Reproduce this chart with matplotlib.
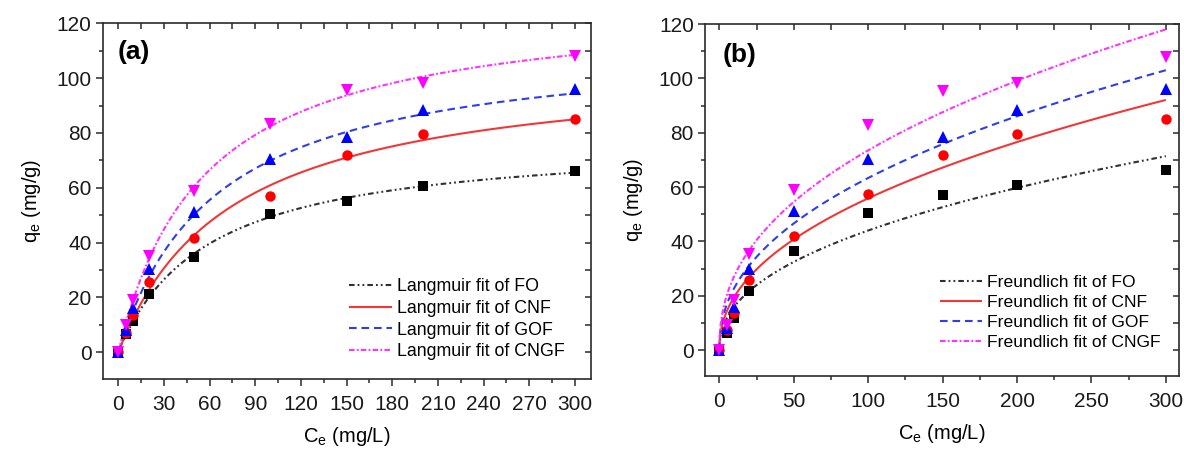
import numpy as np
import matplotlib
matplotlib.use("Agg")
import matplotlib.pyplot as plt
from matplotlib.ticker import MultipleLocator, NullFormatter

plt.rcParams["font.family"] = ["Liberation Sans", "DejaVu Sans"]
plt.rcParams["mathtext.fontset"] = "custom"
plt.rcParams["mathtext.rm"] = "Liberation Sans"
plt.rcParams["mathtext.it"] = "Liberation Sans:italic"
plt.rcParams["lines.scale_dashes"] = False

# Equilibrium concentrations (mg/L)
ce = [0, 5, 10, 20, 50, 100, 150, 200, 300]

# Measured uptake (mg/g), panel (a)
qe_fo_a = [0, 6.5, 11.4, 21.4, 34.8, 50.3, 55.2, 60.7, 66.0]
qe_cnf_a = [0, 6.9, 13.5, 25.7, 41.8, 57.1, 71.9, 79.7, 85.1]
qe_gof_a = [0, 8.0, 16.0, 30.3, 51.0, 70.5, 78.7, 88.2, 96.0]
qe_cngf_a = [0, 9.8, 19.0, 35.0, 59.0, 83.2, 95.5, 98.4, 108.2]

# Measured uptake (mg/g), panel (b)
qe_fo_b = [0, 6.4, 11.7, 21.8, 36.5, 50.5, 57.2, 60.6, 66.1]
qe_cnf_b = [0, 7.4, 13.5, 25.8, 42.0, 57.3, 71.8, 79.6, 84.9]
qe_gof_b = [0, 8.0, 16.0, 30.0, 51.0, 70.4, 78.3, 88.4, 96.1]
qe_cngf_b = [0, 9.2, 18.5, 35.5, 59.0, 83.0, 95.5, 98.2, 108.0]

# Langmuir parameters: q_max (mg/g) and K_L (L/mg)
langmuir_qmax = [78.3, 105.8, 114.5, 128.8]
langmuir_kl = [0.0171, 0.0136, 0.0157, 0.0178]

# Freundlich parameters: K_F and 1/n
freundlich_kf = [5.8, 6.87, 8.25, 10.1]
freundlich_inv_n = [0.44, 0.455, 0.4426, 0.431]

samples = ["FO", "CNF", "GOF", "CNGF"]

marker_colors = ["#000000", "#ff0000", "#0000ff", "#ff00ff"]
line_colors = ["#303030", "#f03838", "#2f3fe8", "#ff33ff"]
markers = ["s", "o", "^", "v"]
marker_sizes = [6.5, 7.5, 8.5, 8.5]
dash_styles = [
    (0, (4.0, 2.2, 1.3, 2.2, 1.3, 2.2)),
    (0, ()),
    (0, (5.5, 3.5)),
    (0, (4.0, 1.6, 1.3, 1.6)),
]

c_fit = np.concatenate([np.linspace(0, 5, 60), np.linspace(5, 300, 600)[1:]])


def langmuir(c, qm, kl):
    return qm * kl * c / (1 + kl * c)


def freundlich(c, kf, inv_n):
    return kf * np.power(c, inv_n)


fig = plt.figure(figsize=(11.84, 4.49), dpi=100)
ax_a = fig.add_axes([0.0867, 0.1552, 0.4124, 0.7929])
ax_b = fig.add_axes([0.5954, 0.1615, 0.4006, 0.7850])

spine_color = "#2a2a2a"
tick_fs = 15


def style_axes(ax, xmajor, xminor):
    ax.xaxis.set_major_locator(MultipleLocator(xmajor))
    ax.xaxis.set_minor_locator(MultipleLocator(xminor))
    ax.yaxis.set_major_locator(MultipleLocator(20))
    ax.yaxis.set_minor_locator(MultipleLocator(10))
    for sp in ax.spines.values():
        sp.set_color(spine_color)
        sp.set_linewidth(1.2)
    ax.tick_params(which="major", direction="out", length=5, width=1.1,
                   color=spine_color, labelsize=tick_fs, labelcolor="#1a1a1a")
    ax.tick_params(which="minor", direction="out", length=3, width=1.1,
                   color=spine_color)
    ax.tick_params(axis="x", which="major", pad=6)
    ax.tick_params(axis="y", which="major", pad=3)

    top = ax.secondary_xaxis("top")
    top.xaxis.set_major_locator(MultipleLocator(xmajor))
    top.xaxis.set_minor_locator(MultipleLocator(xminor))
    top.xaxis.set_major_formatter(NullFormatter())
    top.tick_params(which="both", direction="in", length=4, width=1.1,
                    color=spine_color)
    top.spines["top"].set_visible(False)

    right = ax.secondary_yaxis("right")
    right.yaxis.set_major_locator(MultipleLocator(20))
    right.yaxis.set_minor_locator(MultipleLocator(10))
    right.yaxis.set_major_formatter(NullFormatter())
    right.tick_params(which="both", direction="in", length=4, width=1.1,
                      color=spine_color)
    right.spines["right"].set_visible(False)

    ax.set_xlabel(r"C$_\mathregular{e}$ (mg/L)", fontsize=14.5, labelpad=8)
    ax.set_ylabel(r"q$_\mathregular{e}$ (mg/g)", fontsize=14.5, labelpad=10)


# Panel (a): Langmuir fits
data_a = [qe_fo_a, qe_cnf_a, qe_gof_a, qe_cngf_a]
for i, name in enumerate(samples):
    ax_a.plot(c_fit, langmuir(c_fit, langmuir_qmax[i], langmuir_kl[i]),
              color=line_colors[i], linestyle=dash_styles[i], linewidth=1.5,
              label=f"Langmuir fit of {name}", zorder=2)
for i, name in enumerate(samples):
    ax_a.plot(ce, data_a[i], linestyle="none", marker=markers[i],
              markersize=marker_sizes[i], color=marker_colors[i],
              markeredgewidth=0, zorder=3)

ax_a.set_xlim(-10.25, 310.5)
ax_a.set_ylim(-9.85, 120)
style_axes(ax_a, 30, 15)
ax_a.text(0.031, 0.919, "(a)", transform=ax_a.transAxes, fontsize=19,
          fontweight="bold", ha="left", va="center")
ax_a.legend(loc="center left", bbox_to_anchor=(0.505, 0.169), frameon=False,
            fontsize=12.8, handlelength=2.4, handletextpad=0.3,
            labelspacing=0.27, borderpad=0, borderaxespad=0)

# Panel (b): Freundlich fits
data_b = [qe_fo_b, qe_cnf_b, qe_gof_b, qe_cngf_b]
for i, name in enumerate(samples):
    ax_b.plot(c_fit, freundlich(c_fit, freundlich_kf[i], freundlich_inv_n[i]),
              color=line_colors[i], linestyle=dash_styles[i], linewidth=1.5,
              label=f"Freundlich fit of {name}", zorder=2)
for i, name in enumerate(samples):
    ax_b.plot(ce, data_b[i], linestyle="none", marker=markers[i],
              markersize=marker_sizes[i], color=marker_colors[i],
              markeredgewidth=0, zorder=3)

ax_b.set_xlim(-9.7, 309)
ax_b.set_ylim(-9.75, 120)
style_axes(ax_b, 50, 25)
ax_b.text(0.037, 0.912, "(b)", transform=ax_b.transAxes, fontsize=19,
          fontweight="bold", ha="left", va="center")
ax_b.legend(loc="center left", bbox_to_anchor=(0.495, 0.182), frameon=False,
            fontsize=12.6, handlelength=2.4, handletextpad=0.3,
            labelspacing=0.27, borderpad=0, borderaxespad=0)

fig.savefig("out.png", dpi=100, facecolor="white")
